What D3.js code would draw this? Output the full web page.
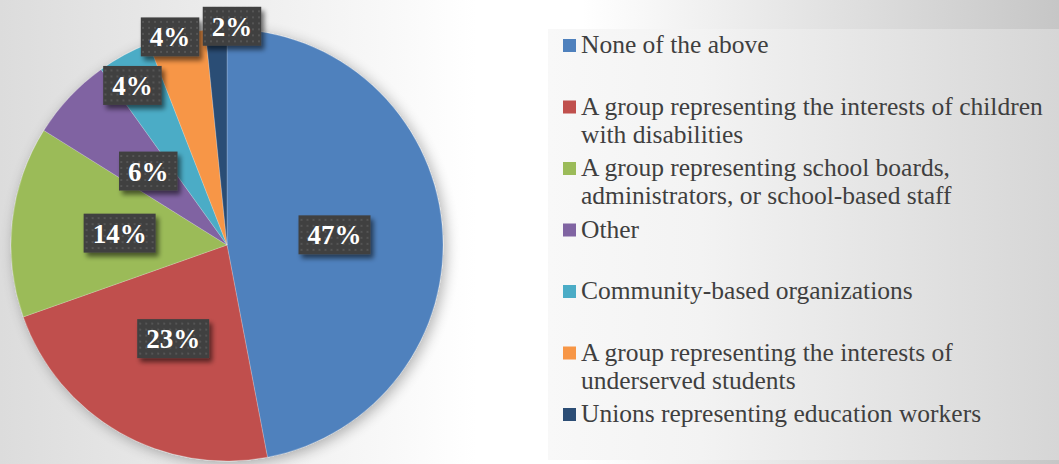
<!DOCTYPE html>
<html><head><meta charset="utf-8">
<script src="https://cdn.jsdelivr.net/npm/d3@7"></script>
<style>html,body{margin:0;padding:0;overflow:hidden;background:#fff}</style>
</head><body>
<svg id="chart" width="1059" height="464"></svg>
<script>
// ---- data ----
const categories = [
  "None of the above",
  "A group representing the interests of children with disabilities",
  "A group representing school boards, administrators, or school-based staff",
  "Other",
  "Community-based organizations",
  "A group representing the interests of underserved students",
  "Unions representing education workers"
];
const values = [47, 22.6, 14.3, 6.2, 4.0, 4.3, 1.6];
const legendLines = [
  ["None of the above"],
  ["A group representing the interests of children", "with disabilities"],
  ["A group representing school boards,", "administrators, or school-based staff"],
  ["Other"],
  ["Community-based organizations"],
  ["A group representing the interests of", "underserved students"],
  ["Unions representing education workers"]
];
const colors = ["#4F81BD", "#C0504D", "#9BBB59", "#8064A2", "#4BACC6", "#F79646", "#2C4D75"];

// ---- layout ----
const W = 1059, H = 464;
const cx = 227, cy = 245, R = 216;
const labelRadius = [108, 108, 108, 108, 186, 214, 219];
const labelShift = [[0,0],[0,0],[0,0],[0,0],[-6,4],[-7,0],[16,0]];

const svg = d3.select("#chart");
const defs = svg.append("defs");

const bg = defs.append("linearGradient").attr("id","bg").attr("x1","0").attr("x2","1").attr("y1","0").attr("y2","0");
bg.append("stop").attr("offset","0").attr("stop-color","#dcdcdc");
bg.append("stop").attr("offset","0.45").attr("stop-color","#ffffff");
bg.append("stop").attr("offset","0.55").attr("stop-color","#ffffff");
bg.append("stop").attr("offset","1").attr("stop-color","#c6c6c6");

const lg = defs.append("linearGradient").attr("id","lg").attr("x1","0").attr("x2","1").attr("y1","0").attr("y2","0");
lg.append("stop").attr("offset","0").attr("stop-color","#f8f8f8");
lg.append("stop").attr("offset","0.3").attr("stop-color","#f3f3f3");
lg.append("stop").attr("offset","1").attr("stop-color","#d6d6d6");

const pieShadow = defs.append("filter").attr("id","pieShadow").attr("x","-20%").attr("y","-20%").attr("width","140%").attr("height","140%");
pieShadow.append("feGaussianBlur").attr("in","SourceAlpha").attr("stdDeviation",7).attr("result","b");
pieShadow.append("feOffset").attr("in","b").attr("dx",3).attr("dy",3).attr("result","o");
pieShadow.append("feComponentTransfer").attr("in","o").attr("result","s")
  .append("feFuncA").attr("type","linear").attr("slope",0.3);
const pm = pieShadow.append("feMerge");
pm.append("feMergeNode").attr("in","s");
pm.append("feMergeNode").attr("in","SourceGraphic");

const boxShadow = defs.append("filter").attr("id","boxShadow").attr("x","-30%").attr("y","-30%").attr("width","160%").attr("height","170%");
boxShadow.append("feGaussianBlur").attr("in","SourceAlpha").attr("stdDeviation",2.5).attr("result","b");
boxShadow.append("feOffset").attr("in","b").attr("dx",3).attr("dy",4).attr("result","o");
boxShadow.append("feComponentTransfer").attr("in","o").attr("result","s")
  .append("feFuncA").attr("type","linear").attr("slope",0.55);
const bm = boxShadow.append("feMerge");
bm.append("feMergeNode").attr("in","s");
bm.append("feMergeNode").attr("in","SourceGraphic");

const pat = defs.append("pattern").attr("id","dots").attr("patternUnits","userSpaceOnUse").attr("width",6).attr("height",6);
pat.append("rect").attr("width",6).attr("height",6).attr("fill","#404040");
pat.append("rect").attr("x",2).attr("y",2).attr("width",2).attr("height",2).attr("fill","#545454");

svg.append("rect").attr("width",W).attr("height",H).attr("fill","url(#bg)");

// ---- pie ----
const pie = d3.pie().sort(null).value(d => d)(values);
const arc = d3.arc().innerRadius(0).outerRadius(R);
const g = svg.append("g").attr("transform",`translate(${cx},${cy})`);
const slices = g.append("g").attr("filter","url(#pieShadow)");
slices.selectAll("path").data(pie).join("path")
  .attr("d", arc)
  .attr("fill", (d,i) => colors[i])
  .attr("stroke","#ffffff").attr("stroke-opacity",0.35).attr("stroke-width",0.6);

// ---- labels ----
const total = d3.sum(values);
const lab = g.append("g");
pie.forEach((d,i) => {
  const a = (d.startAngle + d.endAngle)/2;
  const r = labelRadius[i];
  const x = Math.sin(a)*r + labelShift[i][0];
  const y = -Math.cos(a)*r + labelShift[i][1];
  const txt = d3.format(".0%")(values[i]/total);
  const lg2 = lab.append("g").attr("transform",`translate(${x},${y})`);
  const t = lg2.append("text")
    .attr("text-anchor","middle").attr("dy","0.35em")
    .attr("font-family","'Liberation Serif', 'Times New Roman', serif")
    .attr("font-weight","bold").attr("font-size",27)
    .attr("fill","#ffffff").text(txt);
  const bb = t.node().getBBox();
  const bw = bb.width + 18, bh = 39;
  lg2.insert("rect","text")
    .attr("x",-bw/2).attr("y",-bh/2).attr("width",bw).attr("height",bh)
    .attr("fill","url(#dots)").attr("filter","url(#boxShadow)");
});

// ---- legend ----
svg.append("rect").attr("x",548).attr("y",29).attr("width",W-548).attr("height",431).attr("fill","url(#lg)");
const leg = svg.append("g");
const rowTop = 53, rowStep = 61.5, lineH = 28;
legendLines.forEach((lines,i) => {
  const base = rowTop + i*rowStep;
  leg.append("rect").attr("x",563).attr("y",base-14).attr("width",13).attr("height",13).attr("fill",colors[i]);
  lines.forEach((ln,j) => {
    leg.append("text").attr("x",581).attr("y",base + j*lineH)
      .attr("font-family","'Liberation Serif', 'Times New Roman', serif")
      .attr("font-size",25.5).attr("fill","#3f3f3f").text(ln);
  });
});
</script>
</body></html>
